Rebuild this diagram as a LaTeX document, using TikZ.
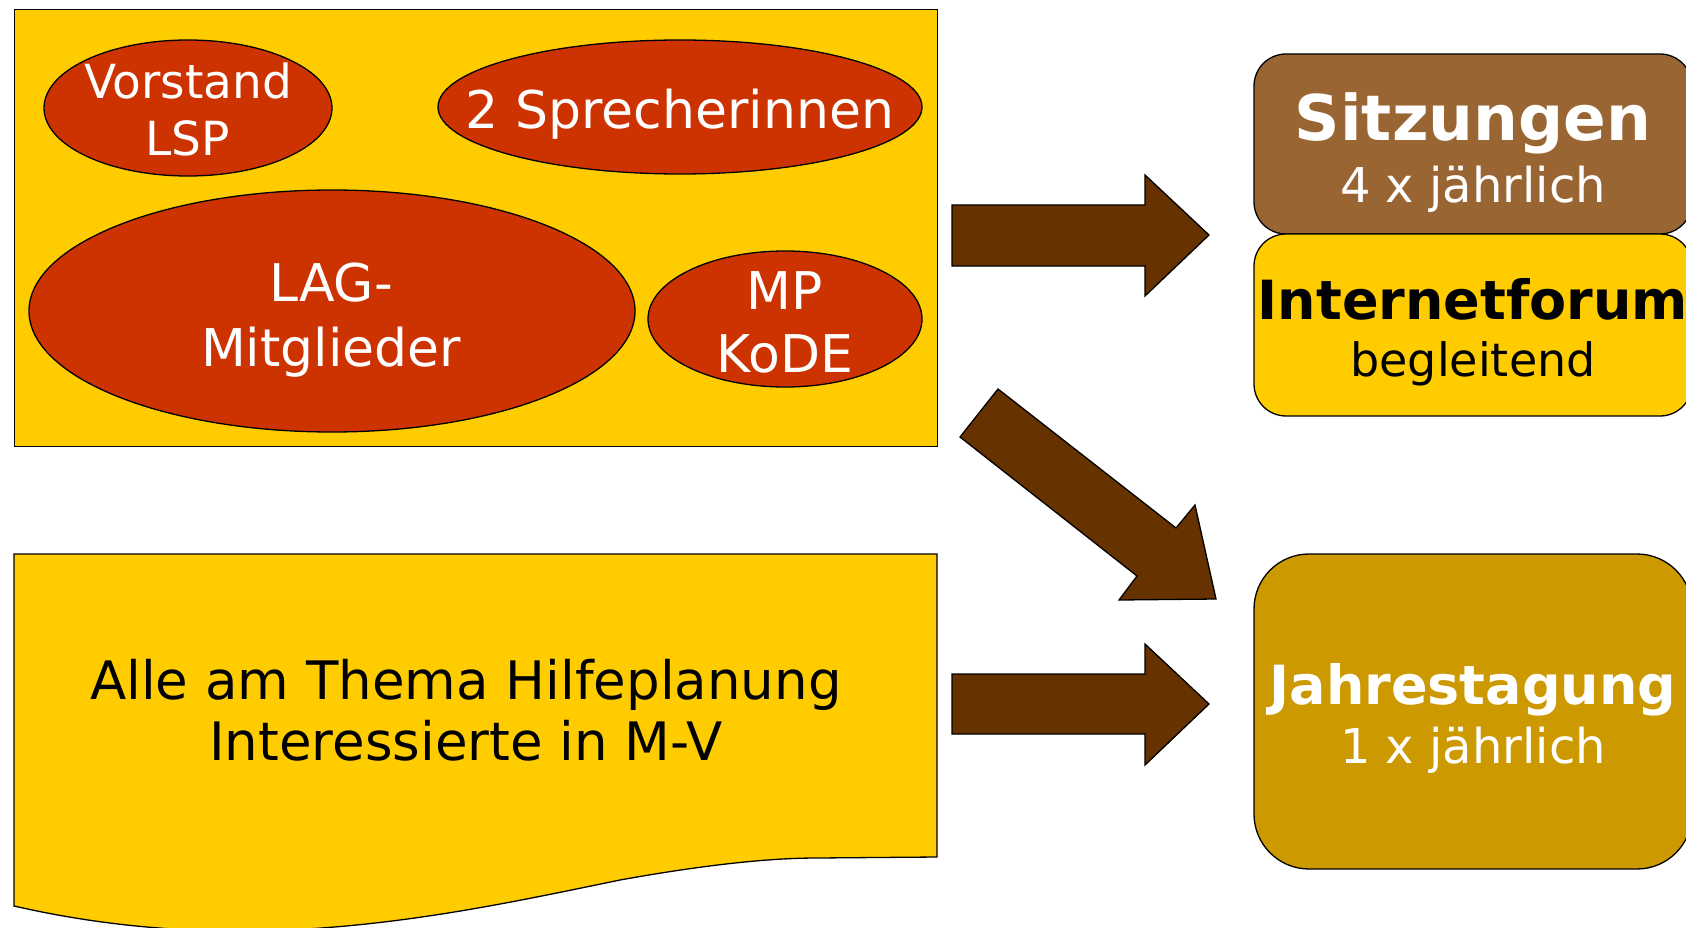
\documentclass[tikz,border=0pt]{standalone}
\usepackage{fontspec}
\setmainfont{DejaVu Sans}
\usetikzlibrary{shapes.geometric}
\definecolor{gelb}{HTML}{FFCC00}
\definecolor{rot}{HTML}{CC3300}
\definecolor{braun}{HTML}{663300}
\definecolor{hbraun}{HTML}{996633}
\definecolor{ocker}{HTML}{CC9900}
\tikzset{
  outl/.style={draw=black, line width=1.3pt},
  ell/.style={ellipse, outl, fill=rot, inner sep=0pt},
  blockarrow/.style={outl, fill=braun, line join=miter},
  txt/.style={anchor=base, inner sep=0pt},
  fs/.style={font=\fontsize{#1}{#1}\selectfont},
}
\begin{document}
\begin{tikzpicture}[x=1pt, y=-1pt]
\useasboundingbox (0,0) rectangle (1686,928);
\clip (0,0) rectangle (1686,928);
% top group
\node[outl, fill=gelb, rectangle, anchor=north west, minimum width=923pt, minimum height=437pt, inner sep=0pt] (grp) at (14,9) {};
\node[ell, minimum width=288pt, minimum height=136pt] (vor) at (188,108) {};
\node[ell, minimum width=484pt, minimum height=134pt] (spr) at (680,107) {};
\node[ell, minimum width=606pt, minimum height=242pt] (lag) at (332,311) {};
\node[ell, minimum width=274pt, minimum height=136pt] (mp) at (785,319) {};
\node[txt, fs=47, white] (t1) at (188,99) {Vorstand};
\node[txt, fs=47, white] (t2) at (188,156) {LSP};
\node[txt, fs=52, white] (t3) at (680,129) {2 Sprecherinnen};
\node[txt, fs=52, white] (t4) at (331,301) {LAG-};
\node[txt, fs=52, white] (t5) at (331,366) {Mitglieder};
\node[txt, fs=52, white] (t6) at (785,309) {MP};
\node[txt, fs=52, white] (t7) at (785,372) {KoDE};
% bottom document shape
\draw[outl, fill=gelb] (14,554) -- (937,554) -- (937,857) -- (817,858)
  .. controls (780,858) and (720,862) .. (620,880)
  .. controls (450,915) and (250,960) .. (14,906) -- cycle;
\node[txt, fs=53] (t8) at (466,699) {Alle am Thema Hilfeplanung};
\node[txt, fs=53] (t9) at (466,760) {Interessierte in M-V};
% arrows
\draw[blockarrow] (952,205) -- (1145,205) -- (1145,175) -- (1209,235) -- (1145,296) -- (1145,266) -- (952,266) -- cycle;
\draw[blockarrow] (952,674) -- (1145,674) -- (1145,644) -- (1209,704) -- (1145,765) -- (1145,734) -- (952,734) -- cycle;
\draw[blockarrow] (998,389) -- (1176,528) -- (1195,505) -- (1216,599) -- (1119,600) -- (1137,576) -- (960,437) -- cycle;
% right boxes
\draw[outl, fill=hbraun, rounded corners=32pt] (1254,54) rectangle (1692,234);
\draw[outl, fill=gelb, rounded corners=32pt] (1254,234) rectangle (1692,416);
\draw[outl, fill=ocker, rounded corners=55pt] (1254,554) rectangle (1692,869);
\node[txt, fs=63, white, font=\bfseries\fontsize{63}{63}\selectfont] (s1) at (1473,141) {Sitzungen};
\node[txt, fs=48, white] (s2) at (1473,203) {4 x jährlich};
\node[txt, font=\bfseries\fontsize{54}{54}\selectfont] (i1) at (1473,319) {Internetforum};
\node[txt, fs=46] (i2) at (1473,376) {begleitend};
\node[txt, white, font=\bfseries\fontsize{54}{54}\selectfont] (j1) at (1473,704) {Jahrestagung};
\node[txt, fs=48, white] (j2) at (1473,763) {1 x jährlich};
\end{tikzpicture}
\end{document}
